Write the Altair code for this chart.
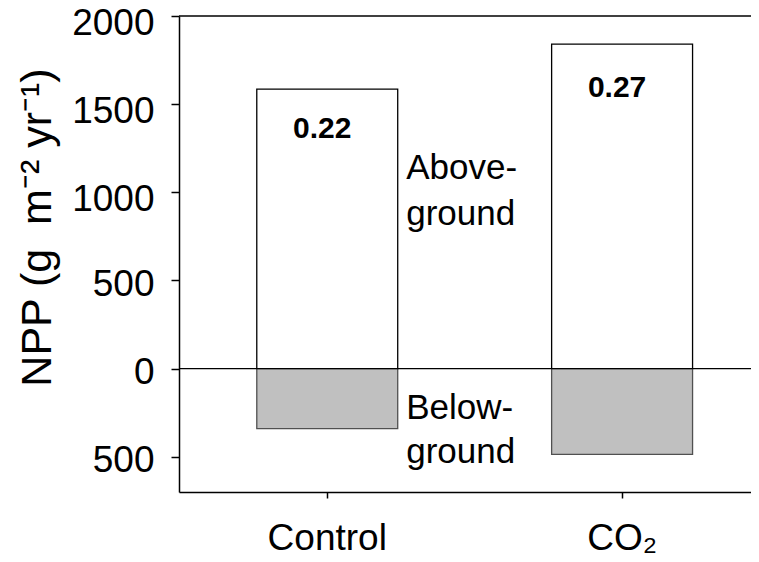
import altair as alt
import pandas as pd

categories = ["Control", "CO₂"]
above = [1585, 1840]
below = [-340, -487]
ratios = ["0.22", "0.27"]
ratio_y = [1358, 1589]
y_ticks = [-500, 0, 500, 1000, 1500, 2000]

FONT = "Liberation Sans"

bars = pd.DataFrame({
    "cat": categories * 2,
    "part": ["above"] * 2 + ["below"] * 2,
    "npp": above + below,
})
labels = pd.DataFrame({"cat": categories, "ly": ratio_y, "ratio": ratios})
ann_above = pd.DataFrame({"cat": ["Control"], "y": [1140]})
ann_below = pd.DataFrame({"cat": ["Control"], "y": [-225]})

xscale = alt.Scale(domain=categories, paddingInner=0.522, paddingOuter=0.231, align=0.571)
yscale = alt.Scale(domain=[-700, 2000], nice=False, zero=False)

xenc = alt.X("cat:N", scale=xscale, sort=categories,
             axis=alt.Axis(title=None, labelAngle=0, tickSize=6, labelPadding=22,
                           labelFontSize=37))
yenc = alt.Y("npp:Q", scale=yscale,
             axis=alt.Axis(values=y_ticks, labelExpr="format(abs(datum.value), 'd')",
                           title="NPP (g\u00a0 m⁻² yr⁻¹)", titleX=-142, titleY=211,
                           titleBaseline="middle", titleAlign="center", titleAngle=270,
                           titleFontSize=43,
                           tickSize=8, labelPadding=17,
                           labelOffset={"condition": {"test": "datum.value >= 1000", "value": 7}, "value": 4},
                           labelFontSize=37))

bar_chart = alt.Chart(bars).mark_bar(strokeWidth=1.3).encode(
    x=xenc,
    y=yenc,
    y2=alt.datum(0),
    fill=alt.Fill("part:N", scale=alt.Scale(domain=["above", "below"], range=["#ffffff", "#c0c0c0"]), legend=None),
    stroke=alt.Stroke("part:N", scale=alt.Scale(domain=["above", "below"], range=["#000000", "#505050"]), legend=None),
)

top_line = alt.Chart(pd.DataFrame({"v": [2000]})).mark_rule(color="black", strokeWidth=1.5).encode(
    y=alt.Y("v:Q", scale=yscale))
zero_line = alt.Chart(pd.DataFrame({"v": [0]})).mark_rule(color="black", strokeWidth=1.3).encode(
    y=alt.Y("v:Q", scale=yscale))

ratio_text = alt.Chart(labels).mark_text(font=FONT, fontSize=30, fontWeight="bold", color="black",
                                         baseline="middle", dx=-5).encode(
    x=alt.X("cat:N", scale=xscale, sort=categories),
    y=alt.Y("ly:Q", scale=yscale),
    text="ratio:N",
)

above_text = alt.Chart(ann_above).mark_text(font=FONT, fontSize=35, color="black", align="left",
                                            baseline="middle", dx=79, lineHeight=46,
                                            text=["Above-", "ground"]).encode(
    x=alt.X("cat:N", scale=xscale, sort=categories),
    y=alt.Y("y:Q", scale=yscale),
)
below_text = alt.Chart(ann_below).mark_text(font=FONT, fontSize=35, color="black", align="left",
                                            baseline="middle", dx=79, lineHeight=44,
                                            text=["Below-", "ground"]).encode(
    x=alt.X("cat:N", scale=xscale, sort=categories),
    y=alt.Y("y:Q", scale=yscale),
)

chart = alt.layer(bar_chart, top_line, zero_line, ratio_text, above_text, below_text).properties(
    width=572, height=476,
    autosize=alt.AutoSizeParams(type="none"),
    padding={"left": 171, "top": 8, "right": 0, "bottom": 62},
).configure_view(stroke=None).configure_axis(
    grid=False, labelFont=FONT, labelColor="black",
    titleFont=FONT, titleFontWeight="normal", titleColor="black",
    domainColor="black", domainWidth=1.5, tickColor="black", tickWidth=1.5,
)

chart.save("out.html", embed_options={"renderer": "svg", "actions": False})
